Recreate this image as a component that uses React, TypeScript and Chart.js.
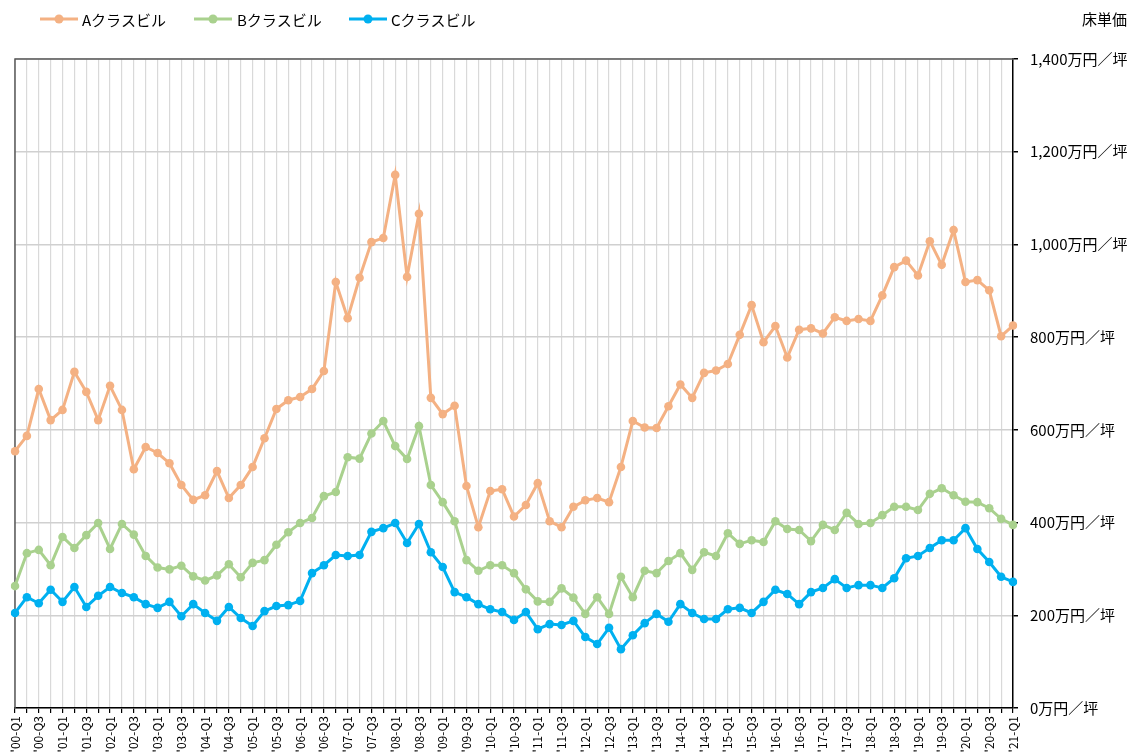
import React, { useEffect, useRef } from 'react';
import { Chart, registerables } from 'chart.js';
Chart.register(...registerables);

const years = ['00','01','02','03','04','05','06','07','08','09','10','11','12','13','14','15','16','17','18','19','20'];
const quarterNames = ['Q1', 'Q2', 'Q3', 'Q4'];
const categories: string[] = [];
years.forEach((y) => quarterNames.forEach((q) => categories.push(`'${y}-${q}`)));
categories.push("'21-Q1");

const seriesNames = ['Aクラスビル', 'Bクラスビル', 'Cクラスビル'];
const seriesColors = ['#F4B183', '#A9D18E', '#00B0F0'];

const classA = [554,587,688,621,643,725,682,621,695,643, 515,563,550,528,481,449,459,511,453,481,
  520,582,645,664,671,688,727,919,841,928, 1005,1014,1150,930,1066,669,634,652,479,390,
  468,472,413,438,485,403,390,434,448,453, 444,520,619,605,604,651,698,669,723,728,
  742,805,869,789,824,756,816,819,808,843, 835,839,835,890,951,965,933,1007,956,1031,
  919,923,901,802,825];
const classB = [263,334,341,308,369,345,373,399,343,397, 374,328,303,299,307,284,275,286,310,282,
  313,319,352,379,399,410,457,466,541,538, 592,619,565,537,608,481,444,403,319,296,
  308,308,291,256,230,229,258,238,203,239, 203,283,239,296,291,317,334,298,336,328,
  377,354,362,358,403,386,384,360,395,384, 421,397,399,416,434,434,427,462,474,459,
  445,444,431,408,395];
const classC = [205,239,226,255,229,261,218,242,261,248, 239,224,216,229,198,224,205,188,218,194,
  177,209,220,222,231,291,308,330,328,330, 380,388,399,356,397,336,304,250,239,224,
  213,207,190,207,170,181,179,188,153,138, 173,127,157,183,203,186,224,205,192,192,
  213,216,205,229,255,246,224,250,259,278, 259,265,265,259,280,323,328,345,362,362,
  388,343,315,283,272];

const yMin = 0;
const yMax = 1400;
const yStep = 200;
const yUnit = '万円／坪';
const yTitle = '床単価';

const FONT = '"Noto Sans CJK JP", "Noto Sans", sans-serif';

const decorPlugin = {
  id: 'decor',
  beforeDatasetsDraw(chart: any) {
    const { ctx, chartArea } = chart;
    ctx.save();
    ctx.strokeStyle = '#595959';
    ctx.lineWidth = 1.5;
    ctx.beginPath();
    ctx.moveTo(chartArea.left, chartArea.bottom);
    ctx.lineTo(chartArea.left, chartArea.top);
    ctx.lineTo(chartArea.right, chartArea.top);
    ctx.stroke();
    ctx.restore();
  },
  afterDraw(chart: any) {
    const { ctx } = chart;
    ctx.save();
    const legendPos = [
      { x0: 40, x1: 78, tx: 82 },
      { x0: 194, x1: 232, tx: 237 },
      { x0: 349, x1: 387, tx: 391 },
    ];
    const ly = 19;
    legendPos.forEach((p, i) => {
      ctx.strokeStyle = seriesColors[i];
      ctx.fillStyle = seriesColors[i];
      ctx.lineWidth = 3;
      ctx.beginPath();
      ctx.moveTo(p.x0, ly);
      ctx.lineTo(p.x1, ly);
      ctx.stroke();
      ctx.beginPath();
      ctx.arc((p.x0 + p.x1) / 2, ly, 4.5, 0, Math.PI * 2);
      ctx.fill();
      ctx.fillStyle = '#000';
      ctx.font = `15px ${FONT}`;
      ctx.textAlign = 'left';
      ctx.textBaseline = 'middle';
      ctx.fillText(seriesNames[i], p.tx, ly + 1);
    });
    ctx.fillStyle = '#000';
    ctx.font = `15px ${FONT}`;
    ctx.textAlign = 'right';
    ctx.textBaseline = 'middle';
    ctx.fillText(yTitle, 1127, 19);
    ctx.restore();
  },
};

export default function App() {
  const ref = useRef<HTMLCanvasElement>(null);
  useEffect(() => {
    document.body.style.margin = '0';
    document.body.style.overflow = 'hidden';
    const ds = [classA, classB, classC].map((d, i) => ({
      label: seriesNames[i],
      data: d,
      borderColor: seriesColors[i],
      backgroundColor: seriesColors[i],
      pointBackgroundColor: seriesColors[i],
      pointBorderColor: seriesColors[i],
      borderWidth: 3,
      pointRadius: 4.3,
      pointBorderWidth: 0,
      tension: 0,
    }));
    const chart = new Chart(ref.current as HTMLCanvasElement, {
      type: 'line',
      data: { labels: categories, datasets: ds },
      plugins: [decorPlugin],
      options: {
        animation: false,
        responsive: false,
        devicePixelRatio: 1,
        layout: { padding: { left: 15, top: 59, right: 0, bottom: 0 } },
        plugins: { legend: { display: false }, tooltip: { enabled: false }, title: { display: false } },
        scales: {
          x: {
            type: 'category',
            offset: false,
            grid: { color: '#d9d9d9', lineWidth: 1.2, tickColor: '#000', tickLength: 5, drawTicks: true },
            border: { color: '#000', width: 1.5 },
            ticks: {
              autoSkip: false,
              maxRotation: 90,
              minRotation: 90,
              padding: 3,
              color: '#000',
              font: { size: 12, family: FONT },
              callback: (_v: any, i: number) => (i % 2 === 0 ? categories[i] : ''),
            },
            afterFit: (s: any) => { s.height = 47; },
          },
          y: {
            position: 'right',
            min: yMin,
            max: yMax,
            grid: { color: '#d0d0d0', lineWidth: 1.5, tickColor: '#000', tickLength: 5 },
            border: { color: '#000', width: 1.5 },
            ticks: {
              stepSize: yStep,
              padding: 12,
              color: '#000',
              font: { size: 15, family: FONT },
              callback: (v: any) => Number(v).toLocaleString('en-US') + yUnit,
            },
            afterFit: (s: any) => { s.width = 126; },
          },
        },
      } as any,
    });
    return () => chart.destroy();
  }, []);
  return (
    <div style={{ position: 'absolute', left: 0, top: 0, width: 1139, height: 755, overflow: 'hidden' }}>
      <canvas ref={ref} width={1139} height={755} style={{ display: 'block' }} />
    </div>
  );
}
